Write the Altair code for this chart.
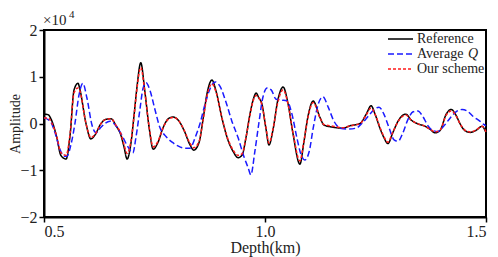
import altair as alt
import pandas as pd

FONT = "Liberation Serif"

# ---- data (amplitude in units of 1e4) ----
ref_depth = [0.500, 0.509, 0.518, 0.529, 0.538, 0.550, 0.559, 0.568, 0.577, 0.581,
             0.595, 0.606, 0.615, 0.629, 0.640, 0.652, 0.663, 0.674, 0.681, 0.688,
             0.697, 0.704, 0.710, 0.719, 0.728, 0.738, 0.747, 0.758, 0.769, 0.781,
             0.792, 0.803, 0.817, 0.830, 0.839, 0.851, 0.860, 0.869, 0.880, 0.889,
             0.903, 0.916, 0.928, 0.939, 0.948, 0.957, 0.966, 0.973, 0.980, 0.986,
             0.993, 1.002, 1.009, 1.018, 1.029, 1.041, 1.052, 1.063, 1.079, 1.088,
             1.097, 1.109, 1.124, 1.133, 1.154, 1.176, 1.192, 1.215, 1.229, 1.240,
             1.249, 1.260, 1.269, 1.278, 1.289, 1.301, 1.312, 1.319, 1.330, 1.344,
             1.360, 1.373, 1.385, 1.396, 1.410, 1.421, 1.432, 1.441, 1.452, 1.464,
             1.477, 1.491, 1.500]
ref_amp = [0.20, 0.19, 0.05, -0.30, -0.68, -0.76, -0.25, 0.72, 0.86, 0.74,
           0.00, -0.33, -0.25, 0.00, 0.09, 0.10, -0.05, -0.25, -0.50, -0.76,
           -0.40, 0.20, 0.75, 1.30, 0.70, -0.10, -0.55, -0.40, -0.10, 0.10,
           0.14, 0.08, -0.15, -0.45, -0.57, -0.40, 0.10, 0.65, 0.93, 0.70,
           0.10, -0.35, -0.60, -0.73, -0.68, -0.30, 0.20, 0.50, 0.65, 0.55,
           0.42, -0.10, -0.46, -0.14, 0.50, 0.78, 0.43, -0.20, -0.87, -0.40,
           0.14, 0.48, 0.14, -0.03, -0.08, -0.10, -0.05, 0.00, 0.20, 0.38,
           0.20, -0.10, -0.30, -0.43, -0.20, 0.05, 0.18, 0.20, 0.08, 0.00,
           -0.05, -0.12, -0.20, -0.15, 0.20, 0.30, 0.18, 0.00, -0.15, -0.19,
           -0.15, -0.06, -0.20]
our_amp = [0.12, 0.12, 0.00, -0.28, -0.62, -0.68, -0.22, 0.66, 0.76, 0.70,
           0.00, -0.30, -0.24, 0.00, 0.09, 0.10, -0.04, -0.22, -0.45, -0.64,
           -0.36, 0.18, 0.72, 1.20, 0.68, -0.08, -0.50, -0.38, -0.10, 0.09,
           0.13, 0.08, -0.14, -0.42, -0.52, -0.38, 0.08, 0.60, 0.85, 0.68,
           0.10, -0.33, -0.57, -0.68, -0.65, -0.30, 0.18, 0.48, 0.60, 0.55,
           0.40, -0.08, -0.42, -0.12, 0.45, 0.72, 0.42, -0.18, -0.80, -0.38,
           0.12, 0.45, 0.13, -0.02, -0.06, -0.09, -0.05, 0.00, 0.18, 0.33,
           0.20, -0.08, -0.28, -0.40, -0.19, 0.04, 0.16, 0.18, 0.08, 0.00,
           -0.05, -0.12, -0.18, -0.14, 0.18, 0.27, 0.17, 0.00, -0.14, -0.18,
           -0.14, -0.06, -0.18]
avg_depth = [0.500, 0.514, 0.525, 0.536, 0.545, 0.552, 0.561, 0.570, 0.579, 0.588,
             0.597, 0.609, 0.618, 0.627, 0.638, 0.649, 0.663, 0.676, 0.690, 0.701,
             0.708, 0.717, 0.724, 0.731, 0.740, 0.751, 0.762, 0.776, 0.790, 0.803,
             0.819, 0.830, 0.842, 0.853, 0.864, 0.876, 0.887, 0.898, 0.912, 0.925,
             0.939, 0.952, 0.962, 0.968, 0.977, 0.986, 0.995, 1.005, 1.014, 1.025,
             1.038, 1.050, 1.061, 1.072, 1.081, 1.090, 1.100, 1.109, 1.120, 1.131,
             1.143, 1.156, 1.170, 1.188, 1.206, 1.219, 1.233, 1.247, 1.258, 1.269,
             1.281, 1.292, 1.301, 1.312, 1.324, 1.335, 1.346, 1.357, 1.369, 1.380,
             1.391, 1.405, 1.419, 1.432, 1.446, 1.457, 1.471, 1.486, 1.495, 1.500]
avg_amp = [0.12, 0.05, -0.20, -0.55, -0.70, -0.70, -0.45, 0.00, 0.60, 0.86,
           0.55, -0.05, -0.20, -0.10, 0.00, 0.05, -0.05, -0.25, -0.50, -0.63,
           -0.30, 0.30, 0.75, 0.87, 0.70, 0.30, -0.08, -0.28, -0.40, -0.48,
           -0.53, -0.53, -0.30, 0.00, 0.40, 0.75, 0.89, 0.80, 0.45, 0.05,
           -0.30, -0.70, -0.95, -1.10, -0.60, 0.00, 0.55, 0.76, 0.72, 0.52,
           0.50, 0.48, 0.20, -0.30, -0.65, -0.78, -0.60, -0.10, 0.40, 0.57,
           0.35, 0.05, -0.10, -0.12, -0.10, 0.00, 0.15, 0.30, 0.35, 0.20,
           -0.10, -0.35, -0.38, -0.20, 0.10, 0.25, 0.27, 0.15, -0.05, -0.15,
           -0.17, -0.05, 0.12, 0.25, 0.30, 0.27, 0.15, 0.05, -0.02, -0.05]

series_names = ["Reference", "Average Q", "Our scheme"]
series_colors = ["#000000", "#1a1aff", "#ff1a1a"]
series_dash = [[1, 0], [6, 3], [3, 2]]

rows = []
for d, a in zip(ref_depth, ref_amp):
    rows.append({"depth": d, "amp": a, "series": "Reference"})
for d, a in zip(avg_depth, avg_amp):
    rows.append({"depth": d, "amp": a, "series": "Average Q"})
for d, a in zip(ref_depth, our_amp):
    rows.append({"depth": d, "amp": a, "series": "Our scheme"})
df = pd.DataFrame(rows)

W, H = 442, 187

x_enc = alt.X("depth:Q", scale=alt.Scale(domain=[0.5, 1.5], nice=False, zero=False),
              axis=alt.Axis(values=[0.5, 1.0, 1.5], format=".1f", title="Depth(km)",
                            tickSize=5, labelPadding=1, titlePadding=0))
y_enc = alt.Y("amp:Q", scale=alt.Scale(domain=[-2, 2], nice=False),
              axis=alt.Axis(values=[-2, -1, 0, 1, 2], format="d", title="Amplitude",
                            tickSize=5, labelPadding=2, titlePadding=-3,
                            titleFontSize=14))

lines = []
for name, col, dash in zip(series_names, series_colors, series_dash):
    lines.append(
        alt.Chart(df[df.series == name]).mark_line(
            color=col, strokeWidth=1.5, strokeDash=dash, interpolate="monotone"
        ).encode(x=x_enc, y=y_enc)
    )

one = pd.DataFrame({"k": [0]})
leg_y = [9, 24, 39]
legend = []
for name, col, dash, yy in zip(series_names, series_colors, series_dash, leg_y):
    legend.append(alt.Chart(one).mark_rule(color=col, strokeWidth=1.5, strokeDash=dash).encode(
        x=alt.value(344), x2=alt.value(369), y=alt.value(yy)))
legend.append(alt.Chart(one).mark_text(text="Reference", align="left", baseline="middle",
                                       font=FONT, fontSize=14, color="#222").encode(
    x=alt.value(373), y=alt.value(leg_y[0])))
legend.append(alt.Chart(one).mark_text(text="Average", align="left", baseline="middle",
                                       font=FONT, fontSize=14, color="#222").encode(
    x=alt.value(373), y=alt.value(leg_y[1])))
legend.append(alt.Chart(one).mark_text(text="Q", align="left", baseline="middle",
                                       font=FONT, fontSize=14, fontStyle="italic", color="#222").encode(
    x=alt.value(424), y=alt.value(leg_y[1])))
legend.append(alt.Chart(one).mark_text(text="Our scheme", align="left", baseline="middle",
                                       font=FONT, fontSize=14, color="#222").encode(
    x=alt.value(373), y=alt.value(leg_y[2])))

# exponent label
legend.append(alt.Chart(one).mark_text(text="×10", align="left", baseline="alphabetic",
                                       font=FONT, fontSize=15, color="#222").encode(
    x=alt.value(-1), y=alt.value(-5)))
legend.append(alt.Chart(one).mark_text(text="4", align="left", baseline="alphabetic",
                                       font=FONT, fontSize=11, color="#222").encode(
    x=alt.value(25), y=alt.value(-12)))

chart = alt.layer(*lines, *legend).properties(
    width=W, height=H,
    autosize=alt.AutoSizeParams(type="none"),
    padding={"left": 36, "top": 22, "right": 4, "bottom": 40},
).configure_view(
    stroke="black", strokeWidth=2
).configure_axis(
    grid=False, domainColor="black", domainWidth=2, tickColor="black", tickWidth=1.5,
    labelFont=FONT, labelFontSize=16, labelColor="#222",
    titleFont=FONT, titleFontSize=16, titleFontWeight="normal", titleColor="#222",
)

chart.save("out.html", embed_options={"renderer": "svg", "actions": False})
